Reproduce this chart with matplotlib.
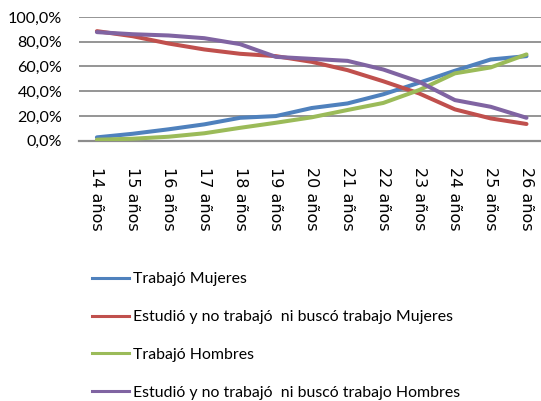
import matplotlib
matplotlib.use("Agg")
import matplotlib.pyplot as plt
from matplotlib.lines import Line2D
from matplotlib.ticker import FuncFormatter

edades = ["14 años", "15 años", "16 años", "17 años", "18 años", "19 años", "20 años",
          "21 años", "22 años", "23 años", "24 años", "25 años", "26 años"]

trabajo_mujeres = [2.7, 5.6, 9.2, 13.2, 18.5, 19.9, 26.4, 30.1, 37.5, 46.8, 56.5, 65.6, 68.3]
estudio_mujeres = [88.5, 84.4, 78.5, 73.7, 70.2, 68.3, 63.7, 57.0, 48.0, 38.2, 25.3, 18.0, 13.5]
trabajo_hombres = [0.8, 1.6, 3.2, 6.0, 10.4, 14.5, 18.9, 24.8, 30.5, 40.9, 54.4, 59.2, 69.7]
estudio_hombres = [87.7, 86.0, 85.0, 82.8, 78.0, 67.7, 66.1, 64.5, 57.5, 47.6, 32.8, 27.4, 18.5]

series = [
    ("Trabajó Mujeres", trabajo_mujeres, "#4F81BD"),
    ("Estudió y no trabajó  ni buscó trabajo Mujeres", estudio_mujeres, "#C0504D"),
    ("Trabajó Hombres", trabajo_hombres, "#9BBB59"),
    ("Estudió y no trabajó  ni buscó trabajo Hombres", estudio_hombres, "#8064A2"),
]

W, H = 541, 401
fig = plt.figure(figsize=(W / 100, H / 100), dpi=100)
ax = fig.add_axes([79 / W, 260.3 / H, 465.4 / W, 123.8 / H])

x = list(range(len(edades)))
for label, vals, color in series:
    ax.plot(x, vals, color=color, linewidth=2.9, solid_capstyle="round", zorder=3)

ax.set_xlim(-0.5, len(edades) - 0.5)
ax.set_ylim(0, 100)
ax.set_yticks([0, 20, 40, 60, 80, 100])
ax.yaxis.set_major_formatter(FuncFormatter(lambda v, _: f"{v:.1f}%".replace(".", ",")))
ax.yaxis.grid(True, color="#8c8c8c", linewidth=1.3)
ax.set_axisbelow(True)
for side in ("top", "right", "left"):
    ax.spines[side].set_visible(False)
ax.spines["bottom"].set_color("#8c8c8c")
ax.spines["bottom"].set_linewidth(1.6)
ax.tick_params(axis="both", length=0)
ax.tick_params(axis="y", labelsize=11.6, pad=12)
for t in ax.get_yticklabels():
    t.set_family("Lato")

ax.set_xticks(x)
ax.set_xticklabels(edades, rotation=270, fontsize=11.5, family="DejaVu Sans",
                   va="top", ha="center")
ax.tick_params(axis="x", pad=19)

handles = [Line2D([], [], color=c, linewidth=2.2) for _, _, c in series]
fig.legend(handles, [s[0] for s in series], loc="upper left",
           bbox_to_anchor=(78 / W, 1 - 258 / H), frameon=False,
           prop={"family": "Lato", "size": 11.4},
           handlelength=2.35, handletextpad=0.25, labelspacing=1.5)

fig.savefig("out.png", dpi=100)
